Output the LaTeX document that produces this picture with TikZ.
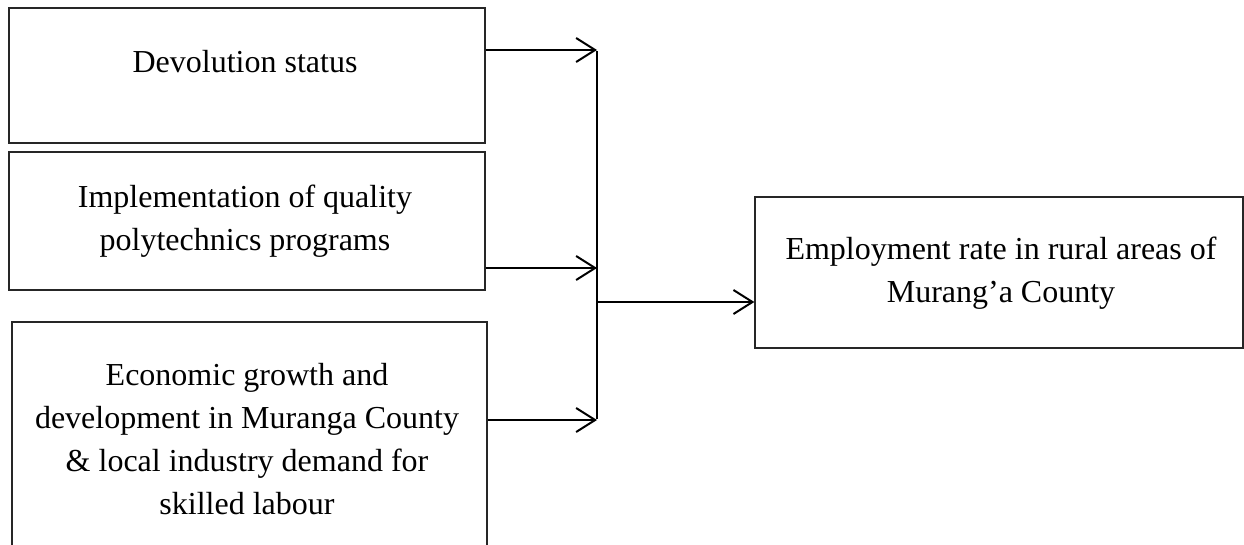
\documentclass[tikz,border=0pt]{standalone}
\usepackage{fontspec}
\setmainfont{Liberation Serif}
\usetikzlibrary{arrows.meta}
\tikzset{
  box/.style={draw=black!85, line width=1.3pt, inner sep=0pt},
  lbl/.style={align=center, font=\fontsize{32}{43}\selectfont, inner sep=0pt},
  conn/.style={line width=2pt, -{Straight Barb[length=19pt,width=24pt,line width=2pt]}},
  wire/.style={line width=2pt}
}
\begin{document}
\begin{tikzpicture}[x=1pt,y=-1pt]
\useasboundingbox (0,0) rectangle (1244,544);
\fill[white] (0,0) rectangle (1244,544);
% boxes
\node[box, minimum width=476pt, minimum height=135pt] (b1) at (247,75.5) {};
\node[box, minimum width=476pt, minimum height=138pt] (b2) at (247,221) {};
\node[box, minimum width=475pt, minimum height=240pt] (b3) at (249.5,442) {};
\node[box, minimum width=488pt, minimum height=151pt] (b4) at (999,272.5) {};
% texts
\node[lbl] (t1) at (245,62) {Devolution status};
\node[lbl] (t2) at (245,221) {Implementation of quality\\polytechnics programs};
\node[lbl] (t3) at (247,439) {Economic growth and\\development in Muranga County\\\& local industry demand for\\skilled labour};
\node[lbl] (t4) at (1001,273) {Employment rate in rural areas of\\Murang’a County};
% junction coordinates
\coordinate (j1) at (597,50);
\coordinate (j2) at (597,268);
\coordinate (j3) at (597,420);
\coordinate (jm) at (597,302);
\draw[conn] (b1.east |- j1) -- (j1);
\draw[conn] (b2.east |- j2) -- (j2);
\draw[conn] (b3.east |- j3) -- (j3);
\draw[wire] ([yshift=-1pt]j1) -- ([yshift=1pt]j3);
\draw[conn] (jm) -- (b4.west |- jm);
\end{tikzpicture}
\end{document}
